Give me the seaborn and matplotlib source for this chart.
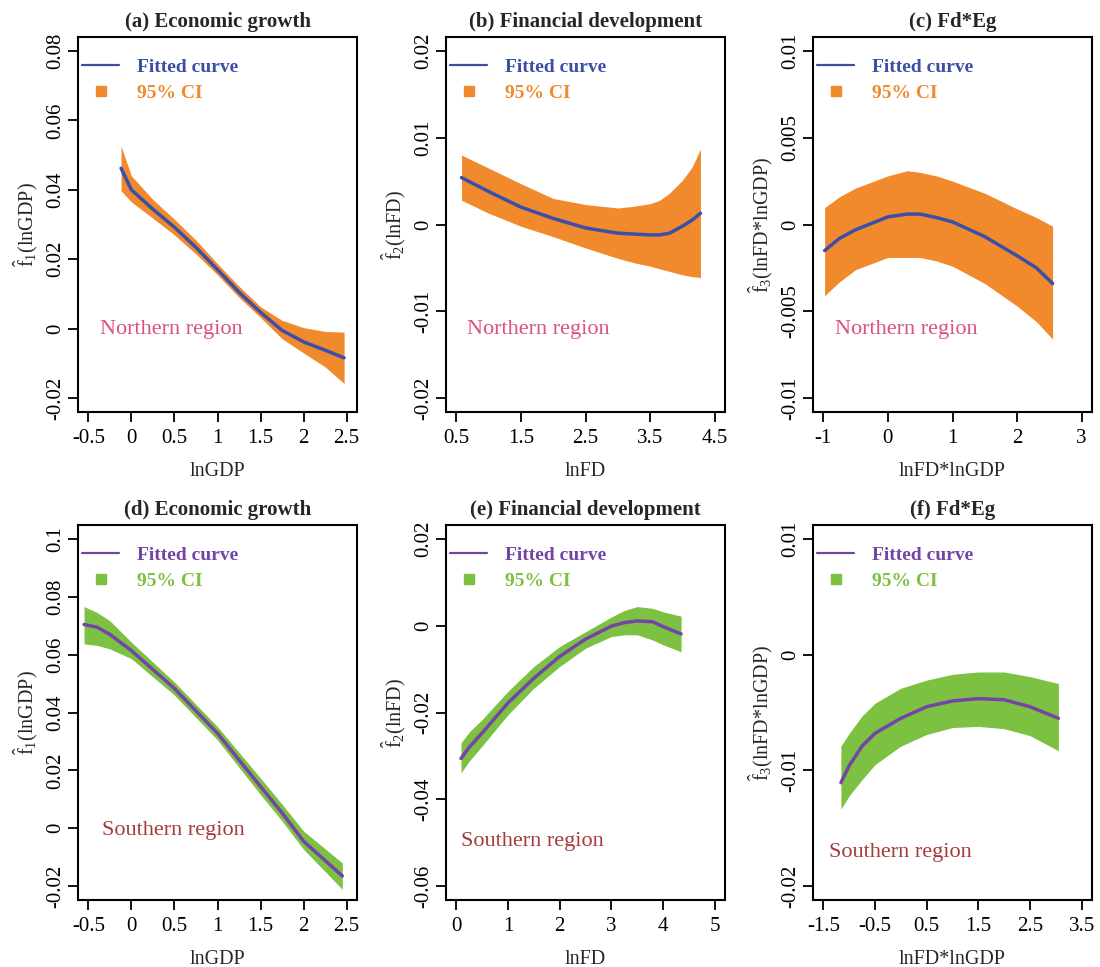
import numpy as np
import pandas as pd
import matplotlib
matplotlib.use("Agg")
import matplotlib.pyplot as plt
from matplotlib.lines import Line2D
import seaborn as sns

# ---------------- data ----------------
# (a) Economic growth, Northern
a_x   = [-0.12, 0.0, 0.25, 0.5, 0.75, 1.0, 1.25, 1.5, 1.75, 2.0, 2.25, 2.47]
a_fit = [0.0462, 0.0400, 0.0344, 0.0292, 0.0234, 0.0170, 0.0105, 0.0047, -0.0005, -0.0038, -0.0062, -0.0084]
a_lo  = [0.0397, 0.0365, 0.0318, 0.0270, 0.0215, 0.0155, 0.0090, 0.0032, -0.0029, -0.0070, -0.0110, -0.0158]
a_hi  = [0.0526, 0.0440, 0.0372, 0.0315, 0.0255, 0.0187, 0.0122, 0.0063, 0.0024, 0.0003, -0.0008, -0.0010]

# (b) Financial development, Northern
b_x   = [0.58, 1.0, 1.5, 2.0, 2.5, 3.0, 3.25, 3.5, 3.65, 3.8, 4.0, 4.15, 4.28]
b_fit = [0.0054, 0.0038, 0.0020, 0.0007, -0.0004, -0.0010, -0.0011, -0.0012, -0.0012, -0.0010, -0.0002, 0.0005, 0.0013]
b_lo  = [0.0028, 0.0013, -0.0002, -0.0014, -0.0027, -0.0039, -0.0044, -0.0048, -0.0051, -0.0054, -0.0058, -0.0060, -0.0061]
b_hi  = [0.0080, 0.0065, 0.0047, 0.0030, 0.0023, 0.0019, 0.0021, 0.0024, 0.0028, 0.0036, 0.0051, 0.0066, 0.0087]

# (c) Fd*Eg, Northern
c_x   = [-0.98, -0.75, -0.5, 0.0, 0.3, 0.5, 0.75, 1.0, 1.5, 2.0, 2.3, 2.55]
c_fit = [-0.0015, -0.0008, -0.0003, 0.00044, 0.0006, 0.0006, 0.0004, 0.00015, -0.0007, -0.0018, -0.0025, -0.0034]
c_lo  = [-0.0041, -0.0033, -0.0026, -0.0019, -0.0019, -0.0019, -0.0021, -0.0024, -0.0034, -0.0047, -0.0056, -0.0066]
c_hi  = [0.00097, 0.0016, 0.0021, 0.0028, 0.0031, 0.0030, 0.0028, 0.0025, 0.0018, 0.0009, 0.0004, -0.0001]

# (d) Economic growth, Southern
d_x   = [-0.55, -0.4, -0.25, 0.0, 0.5, 1.0, 1.5, 1.75, 2.0, 2.45]
d_fit = [0.0704, 0.0695, 0.0670, 0.0614, 0.0483, 0.0328, 0.0144, 0.0053, -0.0045, -0.0165]
d_lo  = [0.0637, 0.0632, 0.0620, 0.0586, 0.0460, 0.0305, 0.0116, 0.0025, -0.0073, -0.0211]
d_hi  = [0.0766, 0.0746, 0.0717, 0.0643, 0.0505, 0.0351, 0.0173, 0.0083, -0.0010, -0.0120]

# (e) Financial development, Southern
e_x   = [0.09, 0.25, 0.5, 1.0, 1.5, 2.0, 2.5, 3.0, 3.25, 3.5, 3.8, 4.0, 4.35]
e_fit = [-0.0306, -0.0280, -0.0247, -0.0178, -0.0121, -0.0071, -0.0031, -0.0001, 0.0007, 0.0011, 0.0009, -0.0002, -0.0019]
e_lo  = [-0.0339, -0.0312, -0.0277, -0.0205, -0.0144, -0.0094, -0.0052, -0.0025, -0.0021, -0.0021, -0.0033, -0.0044, -0.0060]
e_hi  = [-0.0270, -0.0245, -0.0216, -0.0151, -0.0094, -0.0048, -0.0014, 0.0020, 0.0035, 0.0044, 0.0040, 0.0032, 0.0022]

# (f) Fd*Eg, Southern
f_x   = [-1.16, -1.0, -0.75, -0.5, 0.0, 0.5, 1.0, 1.5, 2.0, 2.5, 3.05]
f_fit = [-0.01106, -0.0096, -0.0079, -0.0068, -0.0055, -0.0045, -0.0040, -0.0038, -0.0039, -0.0045, -0.0055]
f_lo  = [-0.01335, -0.0122, -0.0108, -0.0095, -0.0079, -0.0069, -0.0063, -0.0062, -0.0064, -0.0070, -0.0083]
f_hi  = [-0.0079, -0.0068, -0.0053, -0.0042, -0.0029, -0.0022, -0.0017, -0.0015, -0.0015, -0.0019, -0.0025]

titles = ["(a) Economic growth", "(b) Financial development", "(c) Fd*Eg",
          "(d) Economic growth", "(e) Financial development", "(f) Fd*Eg"]
xlabels = ["lnGDP", "lnFD", "lnFD*lnGDP", "lnGDP", "lnFD", "lnFD*lnGDP"]
ylabels = [r"$\hat{\mathrm{f}}_1$(lnGDP)", r"$\hat{\mathrm{f}}_2$(lnFD)", r"$\hat{\mathrm{f}}_3$(lnFD*lnGDP)",
           r"$\hat{\mathrm{f}}_1$(lnGDP)", r"$\hat{\mathrm{f}}_2$(lnFD)", r"$\hat{\mathrm{f}}_3$(lnFD*lnGDP)"]
region_labels = ["Northern region"] * 3 + ["Southern region"] * 3
legend_labels = ["Fitted curve", "95% CI"]

xticks_list = [[-0.5, 0, 0.5, 1, 1.5, 2, 2.5], [0.5, 1.5, 2.5, 3.5, 4.5], [-1, 0, 1, 2, 3],
               [-0.5, 0, 0.5, 1, 1.5, 2, 2.5], [0, 1, 2, 3, 4, 5], [-1.5, -0.5, 0.5, 1.5, 2.5, 3.5]]
yticks_list = [[-0.02, 0, 0.02, 0.04, 0.06, 0.08], [-0.02, -0.01, 0, 0.01, 0.02],
               [-0.01, -0.005, 0, 0.005, 0.01],
               [-0.02, 0, 0.02, 0.04, 0.06, 0.08, 0.1], [-0.06, -0.04, -0.02, 0, 0.02],
               [-0.02, -0.01, 0, 0.01]]

panels = [(a_x, a_fit, a_lo, a_hi), (b_x, b_fit, b_lo, b_hi), (c_x, c_fit, c_lo, c_hi),
          (d_x, d_fit, d_lo, d_hi), (e_x, e_fit, e_lo, e_hi), (f_x, f_fit, f_lo, f_hi)]

# ---------------- style ----------------
sns.set_theme(style="white")
plt.rcParams["font.family"] = ["Liberation Serif", "DejaVu Serif"]
plt.rcParams["mathtext.fontset"] = "custom"
plt.rcParams["mathtext.rm"] = "Liberation Serif"
plt.rcParams["mathtext.it"] = "Liberation Serif:italic"
plt.rcParams["axes.unicode_minus"] = False

north_line, north_fill = "#3B4FA8", "#F08A2C"
south_line, south_fill = "#7444A8", "#7CC142"
north_text, south_text = "#D9527F", "#A63B3B"

fig = plt.figure(figsize=(11, 9.67), dpi=100)
W, H = 1100, 967
lefts = [78, 446, 813]
tops = [37, 525]
bw, bh = 279, 375

region_pos = [(0.079, 0.219), (0.075, 0.221), (0.079, 0.221),
              (0.086, 0.184), (0.054, 0.155), (0.057, 0.127)]


def fmt(v):
    return "{:g}".format(v)


for i, (xs, fit, lo, hi) in enumerate(panels):
    r, c = divmod(i, 3)
    ax = fig.add_axes([lefts[c] / W, 1 - (tops[r] + bh) / H, bw / W, bh / H])
    lc, fc, tc = (north_line, north_fill, north_text) if r == 0 else (south_line, south_fill, south_text)
    df = pd.DataFrame({"x": xs, "fit": fit, "lo": lo, "hi": hi})
    ax.fill_between(df["x"], df["lo"], df["hi"], color=fc, lw=0, zorder=1)
    sns.lineplot(data=df, x="x", y="fit", ax=ax, color=lc, lw=2.5, zorder=2,
                 estimator=None, sort=False)

    xt, yt = xticks_list[i], yticks_list[i]
    xr = xt[-1] - xt[0]
    yr = yt[-1] - yt[0]
    ax.set_xlim(xt[0] - 0.04 * xr, xt[-1] + 0.04 * xr)
    ax.set_ylim(yt[0] - 0.04 * yr, yt[-1] + 0.04 * yr)
    ax.set_xticks(xt)
    ax.set_xticklabels([fmt(v) for v in xt])
    ax.set_yticks(yt)
    ax.set_yticklabels([fmt(v) for v in yt], rotation=90, va="center")
    ax.tick_params(axis="x", direction="out", length=7, width=1.3, labelsize=15,
                   pad=5, colors="black", bottom=True)
    ax.tick_params(axis="y", direction="out", length=7, width=1.3, labelsize=15,
                   pad=2, colors="black", left=True)
    for sp in ax.spines.values():
        sp.set_visible(True)
        sp.set_color("black")
        sp.set_linewidth(1.5)

    ax.set_title(titles[i], fontsize=15, fontweight="bold", pad=7)
    ax.set_xlabel(xlabels[i], fontsize=14.5, labelpad=10)
    ax.set_ylabel(ylabels[i], fontsize=14.5, labelpad=5)

    ax.text(region_pos[i][0], region_pos[i][1], region_labels[i], transform=ax.transAxes,
            fontsize=16, color=tc, ha="left", va="center")

    handles = [Line2D([], [], color=lc, lw=1.6),
               Line2D([], [], color=fc, marker="s", ls="", ms=7)]
    leg = ax.legend(handles, legend_labels, loc="upper left", bbox_to_anchor=(-0.04, 0.985),
                    frameon=False, handlelength=1.9, handletextpad=0.9, labelspacing=0.45,
                    borderaxespad=0.5, borderpad=0.3,
                    prop={"family": "Liberation Serif", "weight": "bold", "size": 14})
    for txt, col in zip(leg.get_texts(), [lc, fc]):
        txt.set_color(col)

fig.savefig("out.png", dpi=100, facecolor="white")
